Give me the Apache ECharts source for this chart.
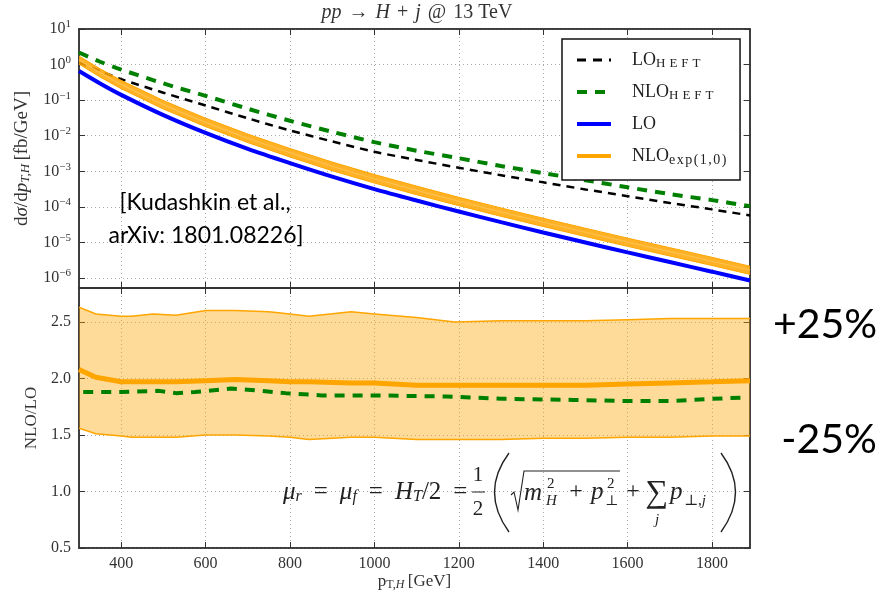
<!DOCTYPE html>
<html><head><meta charset="utf-8">
<script src="https://cdn.jsdelivr.net/npm/echarts@6/dist/echarts.min.js"></script>
<style>html,body{margin:0;padding:0;background:#fff}#c{width:880px;height:595px}</style>
</head><body><div id="c"></div>
<script>
// ---------- data ----------
const ptTop = [300,350,400,500,600,700,800,900,1000,1100,1200,1300,1400,1500,1600,1700,1800,1890];
const loFull = [0.661,0.295,0.141,0.0380,0.0120,0.00427,0.00170,7.08e-4,3.16e-4,1.51e-4,7.41e-5,3.72e-5,1.91e-5,1.00e-5,5.25e-6,2.82e-6,1.51e-6,8.51e-7];
const loHeft = [1.15,0.661,0.389,0.162,0.0708,0.0309,0.0141,6.92e-3,3.55e-3,2.09e-3,1.26e-3,7.76e-4,4.90e-4,3.09e-4,2.00e-4,1.29e-4,8.51e-5,5.75e-5];
const nloHeft = [2.19,1.20,0.724,0.295,0.132,0.0575,0.0263,0.0129,6.61e-3,3.80e-3,2.34e-3,1.41e-3,8.91e-4,5.62e-4,3.55e-4,2.29e-4,1.55e-4,1.05e-4];
const nloCentral = [1.375,0.590,0.278,0.0749,0.0238,0.00850,0.00335,1.388e-3,6.19e-4,2.93e-4,1.438e-4,7.22e-5,3.71e-5,1.94e-5,1.024e-5,5.53e-6,2.97e-6,1.685e-6];
const nloUpper = [1.738,0.758,0.360,0.0973,0.0312,0.01110,0.00437,1.820e-3,8.12e-4,3.84e-4,1.853e-4,9.34e-5,4.79e-5,2.51e-5,1.323e-5,7.13e-6,3.82e-6,2.15e-6];
const nloLower = [1.031,0.445,0.210,0.0562,0.0180,0.00641,0.00252,1.041e-3,4.68e-4,2.20e-4,1.082e-4,5.43e-5,2.81e-5,1.47e-5,7.77e-6,4.17e-6,2.25e-6,1.268e-6];

const ratioPt = [300,340,400,425,475,530,600,670,750,800,845,945,1000,1100,1190,1300,1400,1500,1600,1700,1800,1890];
const ratioUpper = [2.63,2.57,2.55,2.55,2.57,2.56,2.60,2.60,2.59,2.57,2.55,2.59,2.57,2.54,2.50,2.51,2.51,2.51,2.52,2.53,2.53,2.53];
const ratioCentral = [2.08,2.01,1.97,1.97,1.97,1.97,1.98,1.99,1.98,1.97,1.97,1.96,1.96,1.94,1.94,1.94,1.94,1.94,1.95,1.96,1.97,1.98];
const ratioLower = [1.56,1.51,1.49,1.48,1.48,1.48,1.50,1.50,1.49,1.48,1.46,1.48,1.48,1.46,1.46,1.46,1.47,1.47,1.48,1.48,1.49,1.49];

const heftRatioPt = [310,400,490,530,575,660,700,790,875,1000,1170,1300,1470,1600,1700,1800,1870];
const heftRatio = [1.88,1.88,1.89,1.87,1.88,1.91,1.90,1.87,1.85,1.85,1.84,1.82,1.81,1.80,1.80,1.82,1.83];

const xTicks = [400,600,800,1000,1200,1400,1600,1800];
const yTopTicks = [1e-6,1e-5,1e-4,1e-3,1e-2,1e-1,1,10];
const yBotTicks = [0.5,1.0,1.5,2.0,2.5];

// ---------- helpers ----------
const pairs = (xs, ys) => xs.map((x, i) => [x, ys[i]]);
const SERIF = '"Liberation Serif","DejaVu Serif",serif';
const SANS = 'Lato,"Open Sans",sans-serif';
const TXT = '#333';
const ORANGE = '#ffa500';

const split = {show: true, lineStyle: {color: '#aaa', type: [1, 3], width: 1}};
const tick = (vals) => ({show: true, inside: true, length: 6, lineStyle: {color: '#333', width: 1}, customValues: vals});
const axLine = {show: true, lineStyle: {color: '#333', width: 1.5}};
const noSym = {color: 'rgba(0,0,0,0)', borderWidth: 0, opacity: 0};
const spaced = (str, cls) => str.split('').map(c => '{' + cls + '|' + c + '}').join('');

function bandSeries(name, xi, yi, xs, up, lo, fill, stroke, strokeW, z) {
  return {
    name, type: 'custom', xAxisIndex: xi, yAxisIndex: yi, z, silent: true, clip: true,
    data: xs.map((x, i) => [x, up[i], lo[i]]),
    encode: {x: 0, y: [1, 2]},
    renderItem: (params, api) => {
      if (params.dataIndex !== 0) return null;
      const top = xs.map((x, i) => api.coord([x, up[i]]));
      const bot = xs.map((x, i) => api.coord([x, lo[i]]));
      return {type: 'group', children: [
        {type: 'polygon', shape: {points: top.concat(bot.slice().reverse())}, style: {fill, stroke: null}},
        {type: 'polyline', shape: {points: top}, style: {stroke, lineWidth: strokeW, fill: null}},
        {type: 'polyline', shape: {points: bot}, style: {stroke, lineWidth: strokeW, fill: null}}
      ]};
    }
  };
}

const chart = echarts.init(document.getElementById('c'));

const supFmt = v => {
  const e = Math.round(Math.log10(v));
  return '{b|10}{e|' + (e < 0 ? '\u2212' : '') + Math.abs(e) + '}';
};

const legendNames = {
  LO_HEFT: 'LO' + spaced('HEFT', 'h'),
  NLO_HEFT: 'NLO' + spaced('HEFT', 'h'),
  LO: 'LO',
  NLO_exp: 'NLO' + spaced('exp(1,0)', 'x')
};

const option = {
  backgroundColor: '#fff',
  animation: false,
  grid: [
    {left: 79, right: 130, top: 29, height: 259, show: true, borderColor: '#333', borderWidth: 1.5},
    {left: 79, right: 130, top: 288, height: 260, show: true, borderColor: '#333', borderWidth: 1.5}
  ],
  xAxis: [
    {type: 'value', gridIndex: 0, min: 300, max: 1890, axisLine: axLine, axisTick: tick(xTicks),
     axisLabel: {show: false, customValues: xTicks}, splitLine: split},
    {type: 'value', gridIndex: 1, min: 300, max: 1890, axisLine: axLine, axisTick: tick(xTicks),
     axisLabel: {customValues: xTicks, formatter: v => String(v), color: TXT, fontFamily: SERIF, fontSize: 16, margin: 8},
     splitLine: split,
     name: '{r|p}{s|T,}{si|H} {r|[GeV]}', nameLocation: 'middle', nameGap: 22,
     nameTextStyle: {color: TXT, rich: {
       r: {fontFamily: SERIF, fontSize: 17, color: TXT},
       s: {fontFamily: SERIF, fontSize: 12, color: TXT, padding: [7, 0, 0, 0]},
       si: {fontFamily: SERIF, fontSize: 12, fontStyle: 'italic', color: TXT, padding: [7, 0, 0, 0]}
     }}},
    {type: 'value', gridIndex: 0, position: 'top', min: 300, max: 1890, axisLine: axLine, axisTick: tick(xTicks),
     axisLabel: {show: false}, splitLine: {show: false}},
    {type: 'value', gridIndex: 1, position: 'top', min: 300, max: 1890, axisLine: axLine, axisTick: tick(xTicks),
     axisLabel: {show: false}, splitLine: {show: false}}
  ],
  yAxis: [
    {type: 'log', logBase: 10, gridIndex: 0, min: 5.25e-7, max: 10, axisLine: axLine, axisTick: tick(yTopTicks),
     axisLabel: {customValues: yTopTicks, formatter: supFmt, margin: 8, rich: {
       b: {fontFamily: SERIF, fontSize: 16, color: TXT},
       e: {fontFamily: SERIF, fontSize: 11, color: TXT, padding: [0, 0, 9, 0]}
     }},
     splitLine: split,
     name: '{r|d}{i|σ}{r|/d}{i|p}{s|T,H} {r|[fb/GeV]}', nameLocation: 'middle', nameGap: 44,
     nameTextStyle: {rich: {
       r: {fontFamily: SERIF, fontSize: 19, color: TXT},
       i: {fontFamily: SERIF, fontSize: 19, fontStyle: 'italic', color: TXT},
       s: {fontFamily: SERIF, fontSize: 13, fontStyle: 'italic', color: TXT, padding: [7, 0, 0, 0]}
     }}},
    {type: 'value', gridIndex: 1, min: 0.5, max: 2.8, axisLine: axLine, axisTick: tick(yBotTicks),
     axisLabel: {customValues: yBotTicks, formatter: v => v.toFixed(1), color: TXT, fontFamily: SERIF, fontSize: 16, margin: 8},
     splitLine: split,
     name: 'NLO/LO', nameLocation: 'middle', nameGap: 38,
     nameTextStyle: {color: TXT, fontFamily: SERIF, fontSize: 17}},
    {type: 'log', logBase: 10, gridIndex: 0, position: 'right', min: 5.25e-7, max: 10, axisLine: axLine,
     axisTick: tick(yTopTicks), axisLabel: {show: false}, splitLine: {show: false}},
    {type: 'value', gridIndex: 1, position: 'right', min: 0.5, max: 2.8, axisLine: axLine,
     axisTick: tick(yBotTicks), axisLabel: {show: false}, splitLine: {show: false}}
  ],
  legend: {
    left: 562, top: 39, orient: 'vertical',
    padding: [10, 12, 13, 13], itemGap: 10, itemWidth: 34, itemHeight: 10,
    borderColor: '#111', borderWidth: 1.5, backgroundColor: '#fff', borderRadius: 0,
    selectedMode: false,
    textStyle: {fontFamily: SERIF, fontSize: 18, color: '#222', lineHeight: 22, padding: [0, 0, 0, 16],
      rich: {
        h: {fontFamily: SERIF, fontSize: 13, color: '#222', padding: [8, 4, 0, 0], lineHeight: 22},
        x: {fontFamily: SERIF, fontSize: 14, color: '#222', padding: [8, 1.5, 0, 0], lineHeight: 22}
      }},
    formatter: n => legendNames[n] || n,
    data: [
      {name: 'LO_HEFT', itemStyle: noSym, lineStyle: {color: '#000', width: 3, type: [9, 7]}},
      {name: 'NLO_HEFT', itemStyle: noSym, lineStyle: {color: '#008000', width: 4, type: [10, 8]}},
      {name: 'LO', itemStyle: noSym, lineStyle: {color: '#0000ff', width: 4}},
      {name: 'NLO_exp', itemStyle: noSym, lineStyle: {color: ORANGE, width: 4}}
    ]
  },
  series: [
    {name: 'LO_HEFT', type: 'line', xAxisIndex: 0, yAxisIndex: 0, data: pairs(ptTop, loHeft),
     symbol: 'none', smooth: 0.3, lineStyle: {color: '#000', width: 2.5, type: [8, 6]}, itemStyle: {color: '#000'}, z: 2},
    {name: 'NLO_HEFT', type: 'line', xAxisIndex: 0, yAxisIndex: 0, data: pairs(ptTop, nloHeft),
     symbol: 'none', smooth: 0.3, lineStyle: {color: '#008000', width: 4, type: [10, 8]}, itemStyle: {color: '#008000'}, z: 2},
    {name: 'LO', type: 'line', xAxisIndex: 0, yAxisIndex: 0, data: pairs(ptTop, loFull),
     symbol: 'none', smooth: 0.3, lineStyle: {color: '#0000ff', width: 4}, itemStyle: {color: '#0000ff'}, z: 3},
    bandSeries('nloBand', 0, 0, ptTop, nloUpper, nloLower, 'rgba(255,165,0,0.85)', ORANGE, 1, 4),
    {name: 'NLO_exp', type: 'line', xAxisIndex: 0, yAxisIndex: 0, data: pairs(ptTop, nloCentral),
     symbol: 'none', smooth: 0.3, lineStyle: {color: '#ffc04d', width: 1.2}, itemStyle: {color: ORANGE}, z: 5},

    bandSeries('ratioBand', 1, 1, ratioPt, ratioUpper, ratioLower, 'rgba(255,165,0,0.4)', ORANGE, 1.5, 2),
    {name: 'NLO_HEFT', type: 'line', xAxisIndex: 1, yAxisIndex: 1, data: pairs(heftRatioPt, heftRatio),
     symbol: 'none', lineStyle: {color: '#008000', width: 4, type: [10, 8]}, z: 3},
    {name: 'NLO_exp', type: 'line', xAxisIndex: 1, yAxisIndex: 1, data: pairs(ratioPt, ratioCentral),
     symbol: 'none', lineStyle: {color: ORANGE, width: 5}, z: 4}
  ],
  graphic: [
    {type: 'text', x: 417, y: 13, style: {text: '{i|pp}{o|\u2192}{i|H}{o|+}{i|j}{o|@}{n|13 TeV}', textAlign: 'center', textVerticalAlign: 'middle',
      rich: {
        i: {fontFamily: SERIF, fontSize: 20, fontStyle: 'italic', fill: TXT},
        n: {fontFamily: SERIF, fontSize: 20, fill: TXT},
        o: {fontFamily: SERIF, fontSize: 20, fill: TXT, padding: [0, 7, 0, 7]}
      },
      fontFamily: SERIF, fontSize: 20, fill: TXT}},
    {type: 'text', x: 205, y: 203, z: 10, style: {text: '[Kudashkin et al.,', textAlign: 'center', textVerticalAlign: 'middle',
      font: '23px ' + SANS, fill: '#000'}},
    {type: 'text', x: 206, y: 236, z: 10, style: {text: 'arXiv: 1801.08226]', textAlign: 'center', textVerticalAlign: 'middle',
      font: '23px ' + SANS, fill: '#000'}},
    {type: 'text', x: 825, y: 325, style: {text: '+25%', textAlign: 'center', textVerticalAlign: 'middle', font: '41px ' + SANS, fill: '#000'}},
    {type: 'text', x: 829, y: 440, style: {text: '-25%', textAlign: 'center', textVerticalAlign: 'middle', font: '41px ' + SANS, fill: '#000'}},
    // formula mu_r = mu_f = H_T/2 = 1/2 ( sqrt(m_H^2 + p^2) + sum_j p_j )
    {type: 'text', x: 283, y: 492, z: 10, style: {
      text: '{i|μ}{s|r}{e|=}{i|μ}{s|f}{e|=}{i|H}{s|T}{n|/2}{e|=}', textVerticalAlign: 'middle',
      rich: {
        i: {fontFamily: SERIF, fontSize: 25, fontStyle: 'italic', fill: '#222'},
        n: {fontFamily: SERIF, fontSize: 25, fill: '#222'},
        e: {fontFamily: SERIF, fontSize: 25, fill: '#222', padding: [0, 12, 0, 12]},
        s: {fontFamily: SERIF, fontSize: 16, fontStyle: 'italic', fill: '#222', padding: [9, 0, 0, 0]}
      }}},
    {type: 'text', x: 478, y: 475, z: 10, style: {text: '1', textAlign: 'center', textVerticalAlign: 'middle', font: '21px ' + SERIF, fill: '#222'}},
    {type: 'line', z: 10, shape: {x1: 472, y1: 492, x2: 485, y2: 492}, style: {stroke: '#222', lineWidth: 1}},
    {type: 'text', x: 478, y: 509, z: 10, style: {text: '2', textAlign: 'center', textVerticalAlign: 'middle', font: '21px ' + SERIF, fill: '#222'}},
    {type: 'bezierCurve', z: 10, shape: {x1: 509, y1: 453, cpx1: 480, cpy1: 492, x2: 509, y2: 532}, style: {stroke: '#222', lineWidth: 1.4, fill: null}},
    {type: 'polyline', z: 10, shape: {points: [[511, 495], [514, 492], [518, 510], [524, 471], [620, 471]]}, style: {stroke: '#222', lineWidth: 1.1, fill: null}},
    {type: 'text', x: 524, y: 493, z: 10, style: {text: 'm', textVerticalAlign: 'middle', font: 'italic 25px ' + SERIF, fill: '#222'}},
    {type: 'text', x: 547, y: 484, z: 10, style: {text: '2', textVerticalAlign: 'middle', font: '15px ' + SERIF, fill: '#222'}},
    {type: 'text', x: 546, y: 501, z: 10, style: {text: 'H', textVerticalAlign: 'middle', font: 'italic 15px ' + SERIF, fill: '#222'}},
    {type: 'text', x: 576, y: 492, z: 10, style: {text: '+', textAlign: 'center', textVerticalAlign: 'middle', font: '24px ' + SERIF, fill: '#222'}},
    {type: 'text', x: 591, y: 492, z: 10, style: {text: 'p', textVerticalAlign: 'middle', font: 'italic 25px ' + SERIF, fill: '#222'}},
    {type: 'text', x: 607, y: 484, z: 10, style: {text: '2', textVerticalAlign: 'middle', font: '15px ' + SERIF, fill: '#222'}},
    {type: 'text', x: 605, y: 501, z: 10, style: {text: '\u22a5', textVerticalAlign: 'middle', font: '14px ' + SERIF, fill: '#222'}},
    {type: 'text', x: 633, y: 492, z: 10, style: {text: '+', textAlign: 'center', textVerticalAlign: 'middle', font: '24px ' + SERIF, fill: '#222'}},
    {type: 'text', x: 657, y: 494, z: 10, style: {text: '\u2211', textAlign: 'center', textVerticalAlign: 'middle', font: '32px ' + SERIF, fill: '#222'}},
    {type: 'text', x: 657, y: 520, z: 10, style: {text: 'j', textAlign: 'center', textVerticalAlign: 'middle', font: 'italic 15px ' + SERIF, fill: '#222'}},
    {type: 'text', x: 670, y: 492, z: 10, style: {text: 'p', textVerticalAlign: 'middle', font: 'italic 25px ' + SERIF, fill: '#222'}},
    {type: 'text', x: 684, y: 501, z: 10, style: {text: '\u22a5,{i|j}', textVerticalAlign: 'middle', font: '15px ' + SERIF, fill: '#222',
      rich: {i: {fontFamily: SERIF, fontSize: 15, fontStyle: 'italic', fill: '#222'}}}},
    {type: 'bezierCurve', z: 10, shape: {x1: 721, y1: 453, cpx1: 750, cpy1: 492, x2: 721, y2: 532}, style: {stroke: '#222', lineWidth: 1.4, fill: null}}
  ]
};
chart.setOption(option);
</script>
</body></html>
